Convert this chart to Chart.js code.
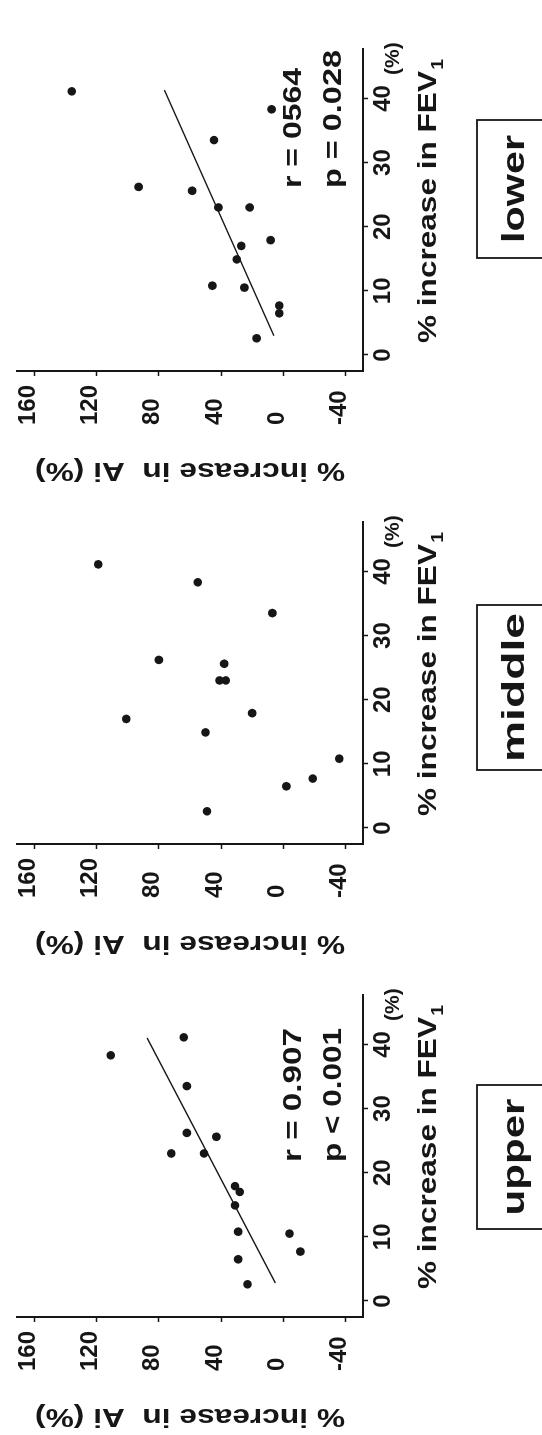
<!DOCTYPE html>
<html>
<head>
<meta charset="utf-8">
<script src="https://cdn.jsdelivr.net/npm/chart.js@4.4.1/dist/chart.umd.min.js"></script>
<style>
  html, body { margin: 0; padding: 0; background: #fff; }
  body { width: 542px; height: 1435px; overflow: hidden; position: relative; }
  /* the figure is laid out landscape and turned a quarter to the left */
  #fig { position: absolute; left: 0; top: 0; width: 1435px; height: 542px;
         transform-origin: 0 0; transform: translate(0, 1435px) rotate(-90deg); }
  #fig canvas { position: absolute; top: 0; }
</style>
</head>
<body>
<div id="fig">
  <canvas id="upper" width="473" height="542" style="left:0"></canvas>
  <canvas id="middle" width="473" height="542" style="left:473px"></canvas>
  <canvas id="lower" width="473" height="542" style="left:946px"></canvas>
</div>
<script>
var fevTicks = [0, 10, 20, 30, 40];
var aiTicks = [-40, 0, 40, 80, 120, 160];

var upperFev = [41.1, 38.3, 33.5, 26.2, 25.6, 23.0, 23.0, 17.9, 17.0, 14.9, 10.8, 10.5, 7.7, 6.5, 2.6];
var upperAi = [64, 111, 62, 62, 43, 72, 51, 31, 28, 31, 29, -4, -11, 29, 23];
var upperFitFev = [2.8, 41.0];
var upperFitAi = [5, 87.5];

var middleFev = [41.1, 38.3, 33.5, 26.2, 25.6, 23.0, 23.0, 17.9, 17.0, 14.9, 10.8, 7.7, 6.5, 2.6];
var middleAi = [119, 55, 7, 80, 38, 41, 37, 20, 101, 50, -36, -19, -2, 49];

var lowerFev = [41.1, 38.3, 33.5, 26.2, 25.6, 23.0, 23.0, 17.9, 17.0, 14.9, 10.8, 10.5, 7.7, 6.5, 2.6];
var lowerAi = [136, 7.5, 44.5, 93, 58.6, 41.7, 21.6, 8.1, 27, 29.9, 45.6, 25, 2.6, 2.6, 17.1];
var lowerFitFev = [3.0, 41.3];
var lowerFitAi = [6, 76.4];

var INK = '#161616';
var FONT = '"Liberation Sans", Arial, Helvetica, sans-serif';

// draw a string from x, squeezed or stretched to a given width
function fitText(ctx, str, x, y, width) {
    var w = ctx.measureText(str).width;
    ctx.save();
    ctx.translate(x, y);
    ctx.scale(width / w, 1);
    ctx.fillText(str, 0, 0);
    ctx.restore();
}

var panelText = {
    id: 'panelText',
    afterDraw: function (chart, args, o) {
        var ctx = chart.ctx;
        ctx.save();
        ctx.fillStyle = INK;
        ctx.strokeStyle = INK;
        ctx.textAlign = 'left';
        ctx.textBaseline = 'alphabetic';

        // y title
        ctx.save();
        ctx.translate(26, 345);
        ctx.rotate(-Math.PI / 2);
        ctx.font = 'bold 25px ' + FONT;
        fitText(ctx, '% increase in  Ai (%)', 0, 0, 310);
        ctx.restore();

        // x title with subscript
        ctx.font = 'bold 26px ' + FONT;
        var main = '% increase in FEV';
        var mw = ctx.measureText(main).width;
        ctx.font = 'bold 16px ' + FONT;
        var sw = ctx.measureText('1').width;
        ctx.save();
        ctx.translate(146, 436);
        ctx.scale(284 / (mw + sw + 1), 1);
        ctx.font = 'bold 26px ' + FONT;
        ctx.fillText(main, 0, 0);
        ctx.font = 'bold 16px ' + FONT;
        ctx.fillText('1', mw + 1, 7);
        ctx.restore();

        ctx.font = 'bold 21px ' + FONT;
        ctx.fillText('(%)', 414, 399);

        if (o.r) {
            ctx.font = 'bold 25px ' + FONT;
            fitText(ctx, o.r, o.noteX, 301, o.rW);
            fitText(ctx, o.p, o.noteX, 341, o.pW);
        }

        ctx.lineWidth = 1.8;
        ctx.strokeRect(o.boxX, 477, o.boxW, 120);
        ctx.font = 'bold 32px ' + FONT;
        fitText(ctx, o.label, o.boxX + (o.boxW - o.labelW) / 2, 524, o.labelW);
        ctx.restore();
    }
};

function makeChart(id, fev, ai, fitFev, fitAi, notes) {
    var datasets = [{
        data: fev.map(function (x, i) { return { x: x, y: ai[i] }; }),
        backgroundColor: INK,
        pointRadius: 4.3,
        pointBorderWidth: 0,
        showLine: false
    }];
    if (fitFev.length) {
        datasets.push({
            data: fitFev.map(function (x, i) { return { x: x, y: fitAi[i] }; }),
            showLine: true,
            borderColor: INK,
            borderWidth: 1.4,
            pointRadius: 0
        });
    }
    var tickFont = { family: FONT, size: 24, weight: 'bold' };
    return new Chart(document.getElementById(id), {
        type: 'scatter',
        data: { datasets: datasets },
        options: {
            responsive: false,
            devicePixelRatio: 1,
            animation: false,
            layout: { padding: { left: 64, top: 15, right: 33, bottom: 0 } },
            plugins: { legend: { display: false }, tooltip: { enabled: false }, panelText: notes },
            scales: {
                x: {
                    type: 'linear',
                    min: -2.5,
                    max: 47.7,
                    afterBuildTicks: function (s) { s.ticks = fevTicks.map(function (v) { return { value: v }; }); },
                    afterFit: function (s) { s.height = 179; },
                    ticks: { font: tickFont, color: INK, padding: 1, maxRotation: 0, autoSkip: false },
                    grid: { drawOnChartArea: false, tickLength: 5, tickWidth: 1.5, tickColor: INK },
                    border: { color: INK, width: 2 }
                },
                y: {
                    type: 'linear',
                    min: -51.3,
                    max: 171,
                    afterBuildTicks: function (s) { s.ticks = aiTicks.map(function (v) { return { value: v }; }); },
                    afterFit: function (s) { s.width = 54; },
                    ticks: { font: tickFont, color: INK, crossAlign: 'far', labelOffset: -6, autoSkip: false },
                    grid: { drawOnChartArea: false, tickLength: 5, tickWidth: 1.5, tickColor: INK },
                    border: { color: INK, width: 2 }
                }
            }
        },
        plugins: [panelText]
    });
}

makeChart('upper', upperFev, upperAi, upperFitFev, upperFitAi,
    { r: 'r = 0.907', p: 'p < 0.001', noteX: 273, rW: 134, pW: 134, boxX: 206, boxW: 144, label: 'upper', labelW: 117 });
makeChart('middle', middleFev, middleAi, [], [],
    { boxX: 192, boxW: 165, label: 'middle', labelW: 149 });
makeChart('lower', lowerFev, lowerAi, lowerFitFev, lowerFitAi,
    { r: 'r = 0564', p: 'p = 0.028', noteX: 301, rW: 120, pW: 138, boxX: 231, boxW: 138, label: 'lower', labelW: 108 });
</script>
</body>
</html>
